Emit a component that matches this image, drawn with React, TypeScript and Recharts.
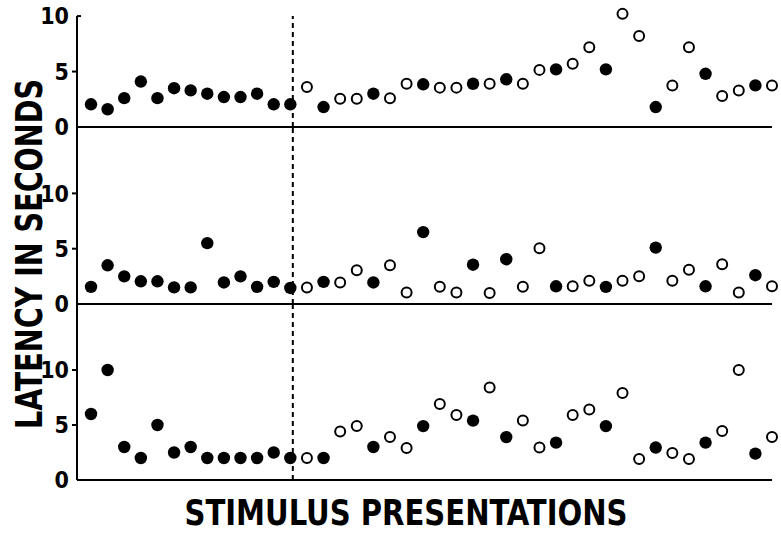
import React from "react";
import { ReferenceLine, Scatter, ScatterChart, XAxis, YAxis } from "recharts";

// trial numbers 1..42; which trials were drawn as filled dots
const TRIALS = Array.from({ length: 42 }, (_, i) => i + 1);
const FILLED = [1, 2, 3, 4, 5, 6, 7, 8, 9, 10, 11, 12, 13, 15, 18, 21, 24, 26, 29, 32, 35, 38, 41];

const TOP_LATENCY = [
  2.05, 1.6, 2.6, 4.1, 2.6, 3.5, 3.3, 3.0, 2.7, 2.7, 3.0, 2.05, 2.05, 3.6, 1.8, 2.55, 2.55, 3.0, 2.6, 3.9, 3.85,
  3.55, 3.55, 3.9, 3.9, 4.3, 3.9, 5.15, 5.2, 5.7, 7.2, 5.2, 10.2, 8.2, 1.8, 3.75, 7.2, 4.8, 2.8, 3.3, 3.75, 3.75,
];
const MID_LATENCY = [
  1.55, 3.5, 2.5, 2.05, 2.05, 1.5, 1.5, 5.5, 1.95, 2.5, 1.55, 2.0, 1.45, 1.5, 2.0, 1.95, 3.05, 1.95, 3.5, 1.05, 6.5,
  1.55, 1.05, 3.55, 1.0, 4.05, 1.55, 5.05, 1.6, 1.6, 2.1, 1.55, 2.1, 2.5, 5.1, 2.1, 3.1, 1.6, 3.6, 1.05, 2.6, 1.6,
];
const LOW_LATENCY = [
  6.0, 10.0, 3.0, 2.0, 5.0, 2.5, 3.0, 2.0, 2.0, 2.0, 2.0, 2.5, 2.0, 2.0, 2.0, 4.4, 4.9, 3.0, 3.9, 2.9, 4.9, 6.9,
  5.9, 5.4, 8.4, 3.9, 5.4, 2.95, 3.4, 5.9, 6.4, 4.9, 7.9, 1.9, 2.95, 2.45, 1.9, 3.4, 4.45, 10.0, 2.4, 3.9,
];

const Y_TICKS = [0, 5, 10];
const X_DOMAIN: [number, number] = [0.156, 42];
const SWITCH_AT = 13.15;

const FONT = "'Liberation Sans Narrow', 'DejaVu Sans Condensed', 'Liberation Sans', sans-serif";

function split(values: number[]) {
  const filled: { x: number; y: number }[] = [];
  const open: { x: number; y: number }[] = [];
  TRIALS.forEach((t, i) => {
    (FILLED.includes(t) ? filled : open).push({ x: t, y: values[i] });
  });
  return { filled, open };
}

const Dot = (props: any) => <circle cx={props.cx} cy={props.cy} r={6.2} fill="#000" />;
const Ring = (props: any) => <circle cx={props.cx} cy={props.cy} r={5} fill="#fff" stroke="#000" strokeWidth={2} />;

function makeTick(flagRight: boolean) {
  return (props: any) => {
    const { x, y, payload } = props;
    const v = payload.value;
    return (
      <g>
        {v !== 0 && !(flagRight && v === 10) && <line x1={x + 3} x2={x + 8} y1={y} y2={y} stroke="#000" strokeWidth={2} />}
        {flagRight && v === 10 && <line x1={x + 8} x2={x + 12} y1={y} y2={y} stroke="#000" strokeWidth={2} />}
        <text x={x} y={y} dy="0.36em" textAnchor="end" fontFamily={FONT} fontWeight="bold" fontSize={23} fill="#000">
          {v}
        </text>
      </g>
    );
  };
}

interface PanelProps {
  values: number[];
  top: number;
  height: number;
  marginTop: number;
  yMax: number;
  axisTop: number;
  first?: boolean;
}

function Panel({ values, top, height, marginTop, yMax, axisTop, first }: PanelProps) {
  const { filled, open } = split(values);
  return (
    <div style={{ position: "absolute", left: 0, top }}>
      <ScatterChart width={781} height={height} margin={{ top: marginTop, right: 9, bottom: 0, left: 0 }}>
        <XAxis
          type="number"
          dataKey="x"
          domain={X_DOMAIN}
          height={13}
          tick={false}
          tickLine={false}
          axisLine={{ stroke: "#000", strokeWidth: 2 }}
        />
        <YAxis
          type="number"
          dataKey="y"
          domain={[0, yMax]}
          ticks={Y_TICKS}
          width={77}
          tickSize={0}
          tickMargin={8}
          tickLine={false}
          axisLine={false}
          tick={makeTick(!!first)}
        />
        <ReferenceLine
          segment={[{ x: X_DOMAIN[0], y: 0 }, { x: X_DOMAIN[0], y: axisTop }]}
          stroke="#000"
          strokeWidth={2}
        />
        <ReferenceLine
          segment={[{ x: SWITCH_AT, y: 0 }, { x: SWITCH_AT, y: axisTop }]}
          stroke="#000"
          strokeWidth={2}
          strokeDasharray="5 4"
        />
        <Scatter data={filled} shape={Dot} isAnimationActive={false} />
        <Scatter data={open} shape={Ring} isAnimationActive={false} />
      </ScatterChart>
    </div>
  );
}

export default function App() {
  return (
    <div style={{ position: "absolute", left: 0, top: 0, width: 781, height: 536, background: "#fff" }}>
      <Panel values={TOP_LATENCY} top={0} height={140} marginTop={5} yMax={11} axisTop={10} first />
      <Panel values={MID_LATENCY} top={120} height={197} marginTop={7} yMax={16} axisTop={16} />
      <Panel values={LOW_LATENCY} top={297} height={196} marginTop={7} yMax={16} axisTop={16} />
      <svg width={781} height={536} style={{ position: "absolute", left: 0, top: 0, pointerEvents: "none" }}>
        <text
          x={0}
          y={0}
          transform="translate(42 254) rotate(-90)"
          textAnchor="middle"
          fontFamily={FONT}
          fontWeight="bold"
          fontSize={38}
          textLength={350}
          lengthAdjust="spacingAndGlyphs"
          fill="#000"
        >
          LATENCY IN SECONDS
        </text>
        <text
          x={406}
          y={525}
          textAnchor="middle"
          fontFamily={FONT}
          fontWeight="bold"
          fontSize={35}
          textLength={443}
          lengthAdjust="spacingAndGlyphs"
          fill="#000"
        >
          STIMULUS  PRESENTATIONS
        </text>
      </svg>
    </div>
  );
}
